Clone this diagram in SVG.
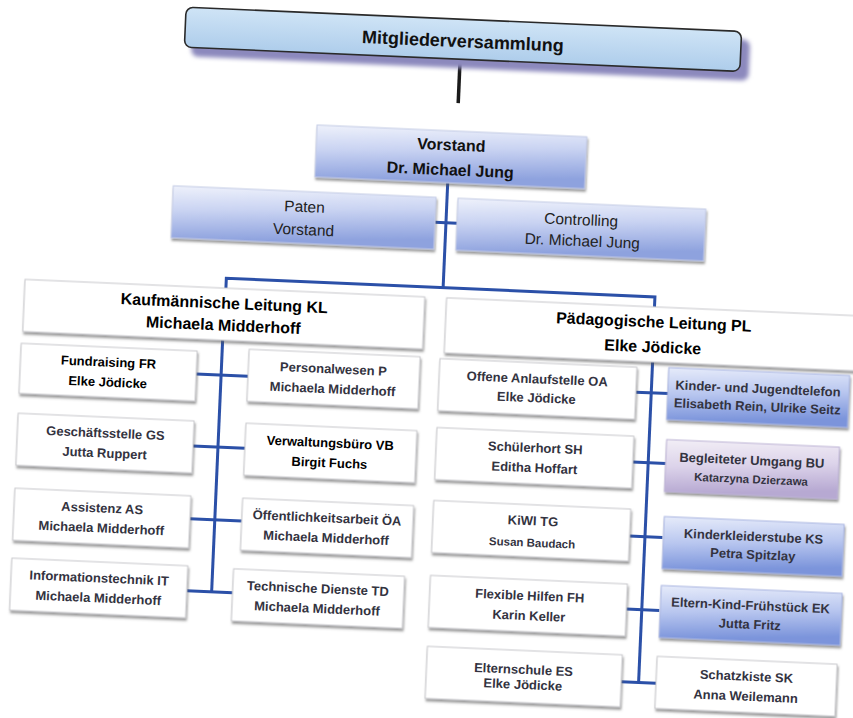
<svg xmlns="http://www.w3.org/2000/svg" width="853" height="718" viewBox="0 0 853 718">
<defs>
<linearGradient id="gMit" x1="0" y1="0" x2="0" y2="1"><stop offset="0" stop-color="#cfe4f6"/><stop offset="1" stop-color="#aecdeb"/></linearGradient>
<linearGradient id="gTop" x1="0" y1="0" x2="0.25" y2="1"><stop offset="0" stop-color="#eef1fb"/><stop offset="0.45" stop-color="#c9d3f2"/><stop offset="1" stop-color="#8ea2de"/></linearGradient>
<linearGradient id="gBlue" x1="0" y1="0" x2="0.2" y2="1"><stop offset="0" stop-color="#e6ebfa"/><stop offset="0.5" stop-color="#b8c6ef"/><stop offset="1" stop-color="#7b94db"/></linearGradient>
<linearGradient id="gLav" x1="0" y1="0" x2="0.2" y2="1"><stop offset="0" stop-color="#f2eef6"/><stop offset="0.5" stop-color="#dcd3ea"/><stop offset="1" stop-color="#b7a9d2"/></linearGradient>
<filter id="sh" x="-5%" y="-10%" width="115%" height="140%"><feDropShadow dx="1" dy="2.5" stdDeviation="1.2" flood-color="#555" flood-opacity="0.6"/></filter>
<filter id="blur"><feGaussianBlur stdDeviation="2"/></filter>
</defs>
<style>
text{font-family:"Liberation Sans",Arial,sans-serif;text-anchor:middle;dominant-baseline:central;font-weight:bold;fill:#33333f;font-size:13px}
.w{fill:#ffffff;stroke:#c8c8cc;stroke-width:1;filter:url(#sh)}
.t{fill:url(#gTop);stroke:#c4cbe6;stroke-width:1;filter:url(#sh)}
.b{fill:url(#gBlue);stroke:#aab6e2;stroke-width:1;filter:url(#sh)}
.l{fill:url(#gLav);stroke:#bdb3d6;stroke-width:1;filter:url(#sh)}
.k{fill:#000}
.big{font-size:16px;fill:#000}
.reg{font-weight:normal;font-size:15.5px;fill:#222}
.sm{font-size:11.5px}
.con{stroke:#2b50a8;stroke-width:3;fill:none}
</style>
<rect width="853" height="718" fill="#ffffff"/>
<g transform="rotate(2.5 426 359)">
<g id="connectors">
<line x1="447" y1="58" x2="447" y2="102" stroke="#1a1a1a" stroke-width="3.5"/>
<polyline class="con" points="440,182 440,287"/>
<line class="con" x1="429" y1="222" x2="451" y2="222"/>
<polyline class="con" points="223,297 223,287 652,287 652,297"/>
<line class="con" x1="222" y1="349" x2="222" y2="602"/>
<line class="con" x1="197" y1="384" x2="249" y2="384"/>
<line class="con" x1="197" y1="456" x2="249" y2="456"/>
<line class="con" x1="197" y1="529" x2="249" y2="529"/>
<line class="con" x1="197" y1="601" x2="243" y2="601"/>
<line class="con" x1="652.5" y1="352" x2="652.5" y2="673"/>
<line class="con" x1="637" y1="383" x2="670" y2="383"/>
<line class="con" x1="637" y1="453" x2="670" y2="453"/>
<line class="con" x1="637" y1="527" x2="670" y2="527"/>
<line class="con" x1="637" y1="600" x2="670" y2="600"/>
<line class="con" x1="635" y1="673" x2="670" y2="673"/>
</g>
<g id="mitglieder">
<rect x="178" y="26" width="558" height="41" rx="7" fill="#8c89bd" filter="url(#blur)"/>
<rect x="171" y="18" width="556" height="40" rx="7" fill="url(#gMit)" stroke="#2a2a2a" stroke-width="1.6"/>
<text x="449" y="40" style="font-size:18px;fill:#111">Mitgliederversammlung</text>
</g>
<g id="vorstand">
<rect class="t" x="307" y="130" width="270" height="52"/>
<text class="big" x="442" y="144" style="fill:#111">Vorstand</text>
<text class="big" x="442" y="169" style="fill:#111">Dr. Michael Jung</text>
</g>
<g id="paten">
<rect class="t" x="166" y="197" width="263" height="52"/>
<text class="reg" x="298" y="212">Paten</text>
<text class="reg" x="298" y="235">Vorstand</text>
</g>
<g id="controlling">
<rect class="t" x="451" y="197" width="248" height="52"/>
<text class="reg" x="575" y="213">Controlling</text>
<text class="reg" x="577" y="234">Dr. Michael Jung</text>
</g>
<g id="kl">
<rect class="w" x="22" y="297" width="400" height="52"/>
<text class="big" x="222" y="312">Kaufmännische Leitung KL</text>
<text class="big" x="222" y="334">Michaela Midderhoff</text>
</g>
<g id="pl">
<rect class="w" x="444" y="297" width="420" height="55"/>
<text class="big" x="652" y="312">Pädagogische Leitung PL</text>
<text class="big" x="652" y="337">Elke Jödicke</text>
</g>
<g id="fr">
<rect class="w" x="21" y="361" width="176" height="50"/>
<text class="k" x="109" y="376">Fundraising FR</text>
<text class="k" x="109" y="396">Elke Jödicke</text>
</g>
<g id="gs">
<rect class="w" x="21" y="431" width="176" height="52"/>
<text x="109" y="447">Geschäftsstelle GS</text>
<text x="109" y="467">Jutta Ruppert</text>
</g>
<g id="as">
<rect class="w" x="21" y="506" width="176" height="52"/>
<text x="109" y="522">Assistenz AS</text>
<text x="109" y="542">Michaela Midderhoff</text>
</g>
<g id="it">
<rect class="w" x="21" y="576" width="176" height="52"/>
<text x="109" y="592">Informationstechnik IT</text>
<text x="109" y="612">Michaela Midderhoff</text>
</g>
<g id="p">
<rect class="w" x="249" y="357" width="171" height="52"/>
<text x="334" y="373">Personalwesen P</text>
<text x="334" y="393">Michaela Midderhoff</text>
</g>
<g id="vb">
<rect class="w" x="249" y="431" width="171" height="52"/>
<text class="k" x="334" y="447">Verwaltungsbüro VB</text>
<text class="k" x="334" y="467">Birgit Fuchs</text>
</g>
<g id="oea">
<rect class="w" x="249" y="506" width="171" height="52"/>
<text x="334" y="522">Öffentlichkeitsarbeit ÖA</text>
<text x="334" y="542">Michaela Midderhoff</text>
</g>
<g id="td">
<rect class="w" x="243" y="577" width="171" height="52"/>
<text x="328" y="593">Technische Dienste TD</text>
<text x="328" y="613">Michaela Midderhoff</text>
</g>
<g id="oa">
<rect class="w" x="440" y="358" width="197" height="52"/>
<text x="538" y="374">Offene Anlaufstelle OA</text>
<text x="538" y="393">Elke Jödicke</text>
</g>
<g id="sh">
<rect class="w" x="440" y="427" width="197" height="52"/>
<text x="539" y="443">Schülerhort SH</text>
<text x="539" y="463">Editha Hoffart</text>
</g>
<g id="kiwi">
<rect class="w" x="440" y="500" width="197" height="52"/>
<text x="540" y="516">KiWI TG</text>
<text class="sm" x="540" y="538">Susan Baudach</text>
</g>
<g id="fh">
<rect class="w" x="440" y="575" width="197" height="52"/>
<text x="540" y="591">Flexible Hilfen FH</text>
<text x="540" y="611">Karin Keller</text>
</g>
<g id="es">
<rect class="w" x="440" y="646" width="195" height="52"/>
<text x="537" y="665">Elternschule ES</text>
<text x="537" y="680">Elke Jödicke</text>
</g>
<g id="kjt">
<rect class="b" x="669" y="357" width="181" height="52"/>
<text x="759" y="374">Kinder- und Jugendtelefon</text>
<text x="759" y="392">Elisabeth Rein, Ulrike Seitz</text>
</g>
<g id="bu">
<rect class="l" x="670" y="429" width="173" height="52"/>
<text x="756" y="446">Begleiteter Umgang BU</text>
<text class="sm" x="756" y="465">Katarzyna Dzierzawa</text>
</g>
<g id="ks">
<rect class="b" x="671" y="506" width="180" height="52"/>
<text x="761" y="522">Kinderkleiderstube KS</text>
<text x="761" y="540">Petra Spitzlay</text>
</g>
<g id="ek">
<rect class="b" x="671" y="575" width="181" height="52"/>
<text x="761" y="591">Eltern-Kind-Frühstück EK</text>
<text x="761" y="610">Jutta Fritz</text>
</g>
<g id="sk">
<rect class="w" x="670" y="646" width="180" height="52"/>
<text x="760" y="662">Schatzkiste SK</text>
<text x="760" y="682">Anna Weilemann</text>
</g>
</g>
</svg>
